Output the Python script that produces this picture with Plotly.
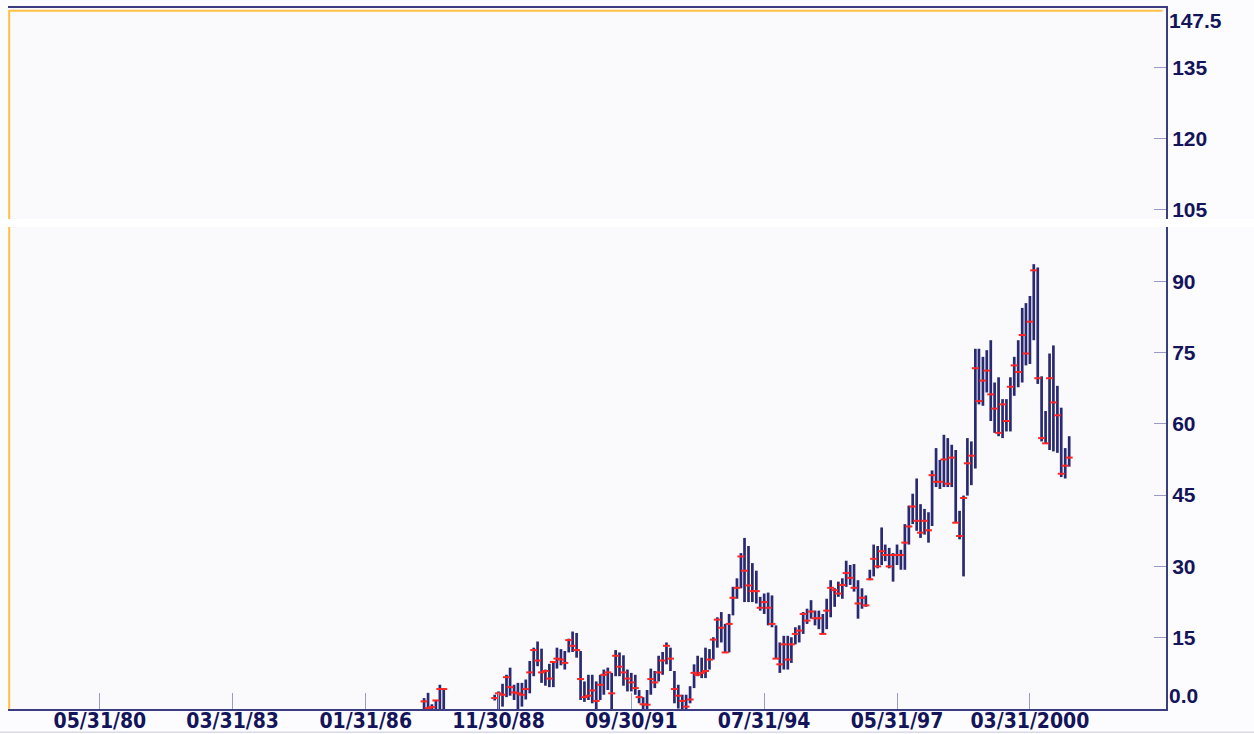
import pandas as pd
import plotly.graph_objects as go

# ---- data (monthly bars, month-end dates) ----
first_month = "1987-04"
highs = [2.3, 3.4, 1.0, 1.9, 5.1, 4.4,
         None, None, None, None, None, None, None, None, None, None, None, None,
         3.0, 3.7, 5.3, 7.2, 8.7, 5.1, 5.5, 5.5, 6.2, 10.1, 12.9, 14.2, 12.7, 8.3, 9.5, 10.1,
         12.9, 12.6, 12.2, 14.8, 16.3, 16.0, 12.2, 5.8, 7.2, 7.2, 5.8, 7.2, 8.3, 8.7, 7.6,
         12.4, 11.9, 11.3, 8.3, 7.6, 7.2, 4.0, 2.5, 4.0, 8.5, 8.0, 11.2, 12.0, 14.0, 12.9,
         8.0, 5.1, 3.0, 3.0, 4.8,
         9.4, 11.2, 10.8, 12.9, 12.6, 15.1, 19.3, 20.4, 17.9, 20.0, 25.7, 27.5, 32.8, 36.0,
         34.3, 30.7, 29.1, 23.6, 24.3, 24.5,
         23.9, 17.6, 14.0, 15.4, 15.4, 15.1, 17.2, 17.6, 20.4, 21.1, 22.9, 20.7, 20.7, 20.0,
         23.2, 27.1, 25.4, 26.8, 27.5, 31.2, 30.3, 30.5, 27.1, 25.4, 23.9, 29.3,
         34.6, 34.3, 38.2, 34.6, 33.9, 32.8, 34.6, 33.5, 38.9, 42.8, 45.3, 48.5, 43.1, 42.1,
         41.4, 50.2,
         54.9, 52.4, 57.7, 57.0, 55.6, 54.5, 41.7, 44.9, 57.0, 56.3, 75.8, 75.8, 74.1, 75.5,
         77.6, 68.7, 69.8, 65.2, 65.2, 69.8, 74.1, 77.6, 84.4, 85.4, 86.9, 93.6, 92.9, 70.0,
         62.7, 74.8, 76.5, 68.0, 63.4, 54.9, 57.4]
lows = [0.0, 0.0, 0.0, 0.0, 0.0, 0.0,
        None, None, None, None, None, None, None, None, None, None, None, None,
        1.8, 0.0, 0.5, 2.5, 2.8, 1.9, 0.0, 0.5, 2.0, 3.3, 6.9, 9.0, 5.5, 4.9, 4.6, 4.6,
        8.5, 9.2, 8.3, 11.9, 12.0, 10.8, 1.9, 1.5, 1.9, 1.2, 0.0, 1.9, 3.0, 4.0, 0.0,
        6.9, 6.9, 4.9, 3.7, 3.7, 3.0, 1.2, 0.0, 0.0, 3.0, 4.4, 5.8, 7.2, 9.4, 8.0,
        1.2, 0.1, 0.0, 0.0, 1.2,
        4.4, 6.9, 6.5, 6.5, 8.3, 10.4, 12.9, 14.0, 11.9, 11.9, 19.7, 23.2, 25.4, 22.5,
        22.5, 22.5, 22.2, 20.7, 20.0, 17.6,
        17.2, 10.6, 7.6, 8.3, 8.3, 9.7, 13.6, 14.0, 15.8, 17.9, 19.0, 17.6, 16.8, 15.8,
        16.8, 19.3, 21.5, 23.6, 23.2, 25.7, 26.1, 24.7, 19.0, 21.1, 21.5, 27.1,
        27.9, 29.6, 30.3, 31.1, 29.6, 26.8, 30.3, 29.3, 29.3, 34.6, 38.9, 37.5, 36.0, 36.7,
        35.0, 38.5,
        46.7, 46.3, 46.7, 46.7, 46.7, 39.2, 35.7, 27.9, 44.9, 47.1, 50.6, 64.1, 63.8, 66.6,
        60.6, 58.1, 57.4, 57.0, 58.4, 58.4, 65.9, 67.7, 68.7, 72.3, 72.6, 77.6, 68.4, 56.3,
        55.9, 54.5, 54.2, 53.9, 48.8, 48.5, 51.0]
closes = [1.6, 0.2, 0.4, 1.8, 4.2, 4.2,
          None, None, None, None, None, None, None, None, None, None, None, None,
          2.3, 3.3, 3.0, 6.7, 4.6, 3.5, 3.3, 3.0, 4.2, 7.7, 12.4, 10.2, 7.7, 8.0, 6.4, 9.9,
          10.6, 10.4, 9.7, 14.5, 13.3, 12.4, 6.3, 2.5, 2.8, 3.9, 1.7, 5.1, 7.2, 7.7, 3.3,
          11.2, 8.9, 7.7, 6.4, 5.6, 4.4, 2.5, 1.0, 0.9, 6.3, 5.6, 7.7, 10.2, 13.3, 10.6,
          4.2, 2.8, 1.7, 0.5, 2.0,
          7.6, 7.2, 7.6, 8.0, 10.4, 14.6, 18.8, 17.1, 11.9, 17.9, 23.4, 25.5, 32.1, 29.1,
          26.0, 24.8, 24.8, 21.3, 22.5, 21.3,
          17.9, 10.6, 9.4, 13.6, 10.4, 13.6, 15.8, 16.5, 20.0, 18.6, 20.5, 19.1, 19.1, 15.8,
          20.7, 25.5, 25.0, 24.3, 26.1, 28.6, 27.6, 25.5, 22.2, 23.4, 21.8, 27.3,
          31.6, 30.0, 33.2, 32.4, 30.0, 32.4, 32.4, 32.4, 35.0, 38.4, 42.6, 39.6, 37.1, 39.6,
          37.6, 49.2,
          47.8, 47.8, 52.5, 47.4, 52.9, 39.2, 36.4, 44.4, 51.7, 53.3, 71.7, 64.8, 69.1, 71.2,
          66.2, 63.2, 58.1, 64.1, 60.6, 67.8, 72.3, 70.9, 78.7, 74.8, 81.5, 92.3, 69.6, 57.0,
          55.9, 69.6, 64.5, 61.8, 49.5, 51.2, 52.9]

tick_dates = ["1980-05-31", "1983-03-31", "1986-01-31", "1988-11-30",
              "1991-09-30", "1994-07-31", "1997-05-31", "2000-03-31"]
tick_text = ["05/31/80", "03/31/83", "01/31/86", "11/30/88",
             "09/30/91", "07/31/94", "05/31/97", "03/31/2000"]
y_ticks = [15, 30, 45, 60, 75, 90, 105, 120, 135]
y_text = ["15", "30", "45", "60", "75", "90", "105", "120", "135"]
y_min, y_max = 0, 147.5

dates = pd.date_range(first_month, periods=len(highs), freq="MS") + pd.offsets.MonthEnd(0)

# build high-low segments
seg_x, seg_y = [], []
for d, h, l in zip(dates, highs, lows):
    if h is None:
        continue
    seg_x += [d, d, None]
    seg_y += [l, h, None]

cx = [d for d, c in zip(dates, closes) if c is not None]
cy = [c for c in closes if c is not None]

NAVY = "#2a2a72"
AXIS = "#3c3c82"
TXT = "#14145a"
XFONT = "DejaVu Sans Condensed, DejaVu Sans, sans-serif"
YFONT = "Liberation Sans, Arial, sans-serif"

fig = go.Figure()
fig.add_trace(go.Scatter(x=seg_x, y=seg_y, mode="lines",
                         line=dict(color=NAVY, width=2.7), hoverinfo="skip",
                         showlegend=False))
fig.add_trace(go.Scatter(x=cx, y=cy, mode="markers",
                         marker=dict(symbol="line-ew", size=5,
                                     line=dict(color="#ff2626", width=2)),
                         showlegend=False))

fig.update_layout(
    width=1254, height=734,
    margin=dict(l=8, r=88, t=8, b=25),
    paper_bgcolor="#fcfcfe",
    plot_bgcolor="#fafafc",
    showlegend=False,
    xaxis=dict(type="date", range=["1978-06-15", "2003-02-24"],
               tickvals=tick_dates, ticktext=tick_text,
               ticks="inside", ticklen=16, tickwidth=1, tickcolor="#9a9ac4",
               showgrid=False, zeroline=False, automargin=False,
               ticklabelstandoff=-8,
               showline=True, linecolor=AXIS, linewidth=2, mirror=True,
               tickfont=dict(family=XFONT, size=21, color=TXT, weight="bold")),
    yaxis=dict(range=[y_min, y_max], side="right",
               tickvals=y_ticks, ticktext=y_text,
               ticks="inside", ticklen=12, tickwidth=1, tickcolor="#9a9ac4",
               showgrid=False, zeroline=False, automargin=False,
               showline=True, linecolor=AXIS, linewidth=2,
               tickfont=dict(family=YFONT, size=21, color=TXT, weight="bold")),
)

# end labels of the value scale
fig.add_annotation(x=1, xref="paper", y=y_min, yref="y", text="0.0",
                   xanchor="left", yanchor="bottom", xshift=1, showarrow=False,
                   font=dict(family=YFONT, size=21, color=TXT, weight="bold"))
fig.add_annotation(x=1, xref="paper", y=y_max, yref="y", text="147.5",
                   xanchor="left", yanchor="top", xshift=1, yshift=1, showarrow=False,
                   font=dict(family=YFONT, size=21, color=TXT, weight="bold"))

# frame decorations: orange inner border on top and left
fig.add_shape(type="line", xref="paper", yref="paper", x0=0.001, x1=0.001, y0=0, y1=0.997,
              line=dict(color="#ffc043", width=2))
fig.add_shape(type="line", xref="paper", yref="paper", x0=0.001, x1=0.997, y0=0.996, y1=0.996,
              line=dict(color="#ffc043", width=2))
# white seam band across the picture
fig.add_shape(type="rect", xref="paper", yref="paper", x0=-0.02, x1=1.1, y0=0.6876, y1=0.699,
              fillcolor="#ffffff", line=dict(width=0), layer="above")
# thin light rule at the bottom
fig.add_shape(type="line", xref="paper", yref="paper", x0=-0.02, x1=1.1, y0=-0.033, y1=-0.033,
              line=dict(color="#c8c8dc", width=1))

fig.write_html("out.html", config={"displayModeBar": False},
               post_script="document.body.style.margin='0';")
